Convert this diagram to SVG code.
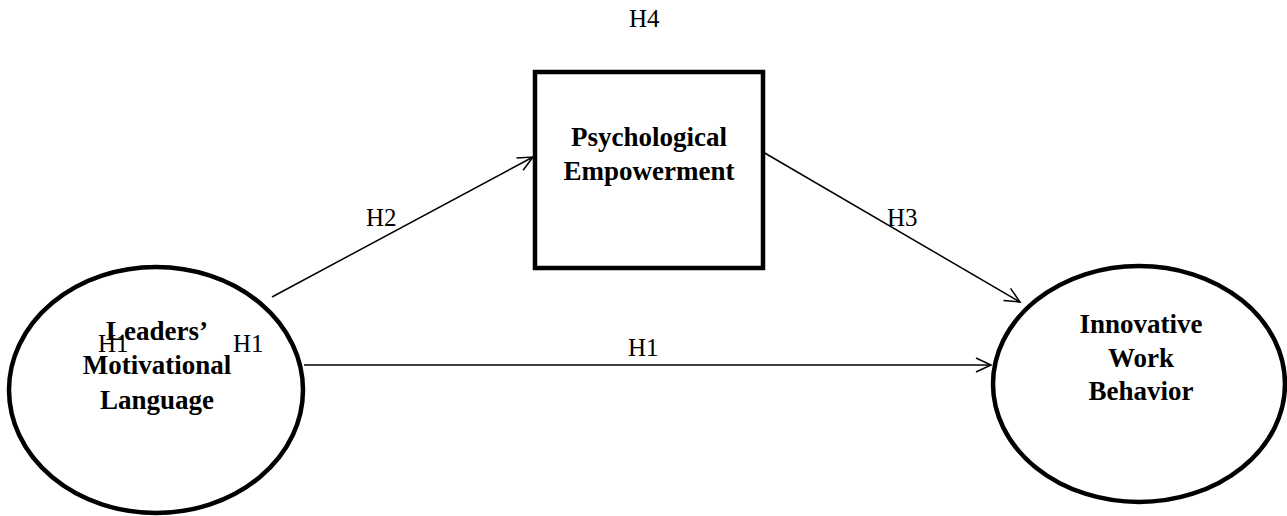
<svg xmlns="http://www.w3.org/2000/svg" width="1287" height="516" viewBox="0 0 1287 516">
<style>
.node{fill:#fff;stroke:#000;stroke-width:4.5}
.lbl{font-family:"Liberation Serif","Times New Roman",serif;font-size:27px;font-weight:bold;text-anchor:middle;fill:#000}
.h{font-family:"Liberation Serif","Times New Roman",serif;font-size:25px;fill:#000}
.edge{stroke:#000;stroke-width:1.5;fill:none;marker-end:url(#arr)}
</style>
<defs>
<marker id="arr" markerWidth="18" markerHeight="18" refX="16" refY="8" orient="auto" markerUnits="userSpaceOnUse">
<path d="M1,1 L16,8 L1,15" fill="none" stroke="#000" stroke-width="1.5"/>
</marker>
</defs>
<rect width="1287" height="516" fill="#fff"/>
<g id="connectors">
<line class="edge" x1="272" y1="297" x2="533" y2="157"/>
<line class="edge" x1="763" y1="152" x2="1020" y2="302"/>
<line class="edge" x1="304" y1="365" x2="991" y2="365"/>
</g>
<g id="leaders">
<ellipse class="node" cx="156" cy="390" rx="147" ry="123"/>
<text class="lbl" x="157" y="340">Leaders’</text>
<text class="lbl" x="157" y="374">Motivational</text>
<text class="lbl" x="157" y="409">Language</text>
</g>
<g id="empowerment">
<rect class="node" x="535" y="72" width="228" height="196"/>
<text class="lbl" x="649" y="146">Psychological</text>
<text class="lbl" x="649" y="180">Empowerment</text>
</g>
<g id="iwb">
<ellipse class="node" cx="1139" cy="384" rx="146" ry="118"/>
<text class="lbl" x="1141" y="333">Innovative</text>
<text class="lbl" x="1141" y="367">Work</text>
<text class="lbl" x="1141" y="400">Behavior</text>
</g>
<g id="labels">
<text class="h" x="629" y="27">H4</text>
<text class="h" x="366" y="226">H2</text>
<text class="h" x="887" y="226">H3</text>
<text class="h" x="628" y="356">H1</text>
<text class="h" x="98" y="352">H1</text>
<text class="h" x="233" y="352">H1</text>
</g>
</svg>
